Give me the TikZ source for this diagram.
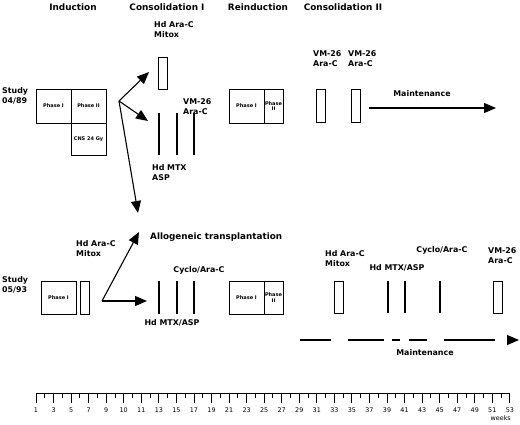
\documentclass[tikz,border=0pt]{standalone}
\usepackage{fontspec}
\setmainfont{DejaVu Sans}
\usetikzlibrary{arrows.meta}

\begin{document}
\begin{tikzpicture}[x=1pt,y=-1pt]
    % Node styles
    \tikzstyle{phase} = [rectangle, draw, line width=0.9pt, inner sep=0pt, minimum width=35pt, minimum height=34pt, font=\fontsize{5}{5.5}\selectfont\bfseries, align=center]
    \tikzstyle{slim} = [rectangle, draw, line width=0.9pt, inner sep=0pt, minimum width=9pt, minimum height=33pt]
    \tikzstyle{head} = [font=\fontsize{8.9}{10}\selectfont\bfseries, anchor=base, inner sep=0pt]
    \tikzstyle{lbl} = [font=\fontsize{7.9}{10}\selectfont\bfseries, anchor=base west, align=left, inner sep=0pt]
    \tikzstyle{small} = [font=\fontsize{7.9}{10}\selectfont\bfseries, anchor=base, inner sep=0pt]
    \tikzstyle{arrow} = [-{Triangle[length=12pt,width=10pt]}, line width=1.1pt]
    \tikzstyle{drug} = [line width=1.1pt]
    \useasboundingbox (0,0) rectangle (520,424);

    % Headings
    \node (h_ind) at (73,10) [head] {Induction};
    \node (h_cons1) at (167,10) [head] {Consolidation I};
    \node (h_reind) at (258,10) [head] {Reinduction};
    \node (h_cons2) at (343,10) [head] {Consolidation II};

    % Study 04/89
    \node (study_a) at (2,103) [lbl] {Study\\04/89};
    \node (ph1_a) at (53.5,106) [phase] {Phase I};
    \node (ph2_a) at (88.5,106) [phase] {Phase II};
    \node (cns_a) at (88.5,139) [phase, minimum height=32pt] {CNS 24 Gy};
    \node (hd_a) at (162.5,73) [slim, minimum height=32pt] {};
    \node (hd_a_lbl) at (154,37) [lbl] {Hd Ara-C\\Mitox};
    \foreach \x in {159,177,194} \draw[drug] (\x,113) -- (\x,155);
    \node (vm_a_lbl) at (183,114) [lbl] {VM-26\\Ara-C};
    \node (mtx_a_lbl) at (152,180) [lbl] {Hd MTX\\ASP};
    \node (re1_a) at (246.5,106) [phase] {Phase I};
    \node (re2_a) at (273.5,106) [phase, minimum width=19pt] {Phase\\II};
    \node (vm1_a) at (320.5,105.5) [slim] {};
    \node (vm2_a) at (355.5,105.5) [slim] {};
    \node (vm1_a_lbl) at (313,66) [lbl] {VM-26\\Ara-C};
    \node (vm2_a_lbl) at (348,66) [lbl] {VM-26\\Ara-C};
    \node (maint_a) at (422,96) [small] {Maintenance};
    \coordinate (maint_a_start) at (369,108);
    \coordinate (maint_a_end) at (496,108);

    % Allogeneic transplantation
    \node (allo) at (150,239.5) [lbl, font=\fontsize{8.8}{10}\selectfont\bfseries] {Allogeneic transplantation};

    % Study 05/93
    \node (study_b) at (2,292) [lbl] {Study\\05/93};
    \node (hd_b_lbl) at (76,256) [lbl] {Hd Ara-C\\Mitox};
    \node (ph1_b) at (58.5,297.5) [phase, minimum height=33pt] {Phase I};
    \node (hd_b) at (84.5,297.5) [slim] {};
    \foreach \x in {159,177,194} \draw[drug] (\x,281) -- (\x,314);
    \node (cyc_b_lbl) at (199,272) [small] {Cyclo/Ara-C};
    \node (mtx_b_lbl) at (172,325) [small] {Hd MTX/ASP};
    \node (re1_b) at (246.5,297.5) [phase, minimum height=33pt] {Phase I};
    \node (re2_b) at (273.5,297.5) [phase, minimum width=19pt, minimum height=33pt] {Phase\\II};
    \node (hd2_b) at (339,297) [slim, minimum height=32pt] {};
    \node (hd2_b_lbl) at (325,266) [lbl] {Hd Ara-C\\Mitox};
    \foreach \x in {388,405,440} \draw[drug] (\x,281) -- (\x,313);
    \node (mtx2_b_lbl) at (397,270) [small] {Hd MTX/ASP};
    \node (cyc2_b_lbl) at (442,252) [small] {Cyclo/Ara-C};
    \node (vm_b) at (497.5,297) [slim, minimum height=32pt] {};
    \node (vm_b_lbl) at (488,263) [lbl] {VM-26\\Ara-C};
    \node (maint_b) at (425,355) [small] {Maintenance};
    \coordinate (maint_b_end) at (519,340);

    % Arrows
    \coordinate (fork_a) at (119,101);
    \coordinate (to_hd_a) at (149,72);
    \coordinate (to_mtx_a) at (148,121);
    \coordinate (to_allo_a) at (138,213);
    \draw[arrow] (fork_a) -- (to_hd_a);
    \draw[arrow] (fork_a) -- (to_mtx_a);
    \draw[arrow] (fork_a) -- (to_allo_a);
    \draw[arrow] (maint_a_start) -- (maint_a_end);
    \coordinate (fork_b) at (102,301);
    \coordinate (to_allo_b) at (139,232);
    \coordinate (to_mtx_b) at (147,301);
    \draw[arrow] (fork_b) -- (to_allo_b);
    \draw[arrow] (fork_b) -- (to_mtx_b);
    \foreach \a/\b in {300/331,348/384,392/400,409/427,444/495}
        \draw[drug] (\a,340) -- (\b,340);
    \draw[arrow] (507,340) -- (maint_b_end);

    % Weeks scale
    \draw[line width=1pt] (36,393) -- (510,393);
    \foreach \w [count=\i from 0] in {1,3,5,7,9,10,11,13,15,17,19,21,23,25,27,29,31,33,35,37,39,41,43,45,47,49,51,53} {
        \draw[line width=0.9pt] (36+17.55*\i,393) -- (36+17.55*\i,403);
        \node at (36+17.55*\i,412.5) [anchor=base, inner sep=0pt, font=\fontsize{6.4}{7}\selectfont] {\w};
    }
    \foreach \i in {0,...,26}
        \draw[line width=0.9pt] (44.775+17.55*\i,393) -- (44.775+17.55*\i,398);
    \node (weeks) at (511,420) [anchor=base east, inner sep=0pt, font=\fontsize{6.4}{7}\selectfont] {weeks};

\end{tikzpicture}
\end{document}
